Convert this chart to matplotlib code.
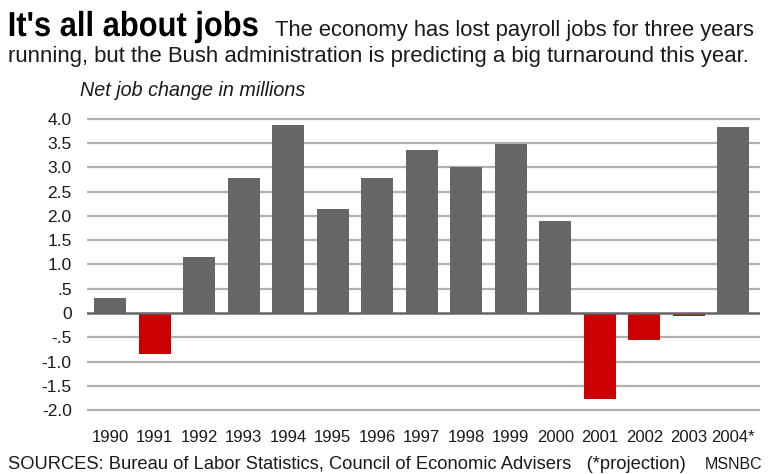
import matplotlib
matplotlib.use("Agg")
from matplotlib import pyplot as plt
from matplotlib.patheffects import AbstractPathEffect
from matplotlib.transforms import Affine2D
import numpy as np

# data
years = ["1990", "1991", "1992", "1993", "1994", "1995", "1996", "1997",
         "1998", "1999", "2000", "2001", "2002", "2003", "2004*"]
job_change = [0.32, -0.85, 1.16, 2.78, 3.86, 2.15, 2.78, 3.35,
              3.0, 3.47, 1.9, -1.77, -0.55, -0.06, 3.82]
ytick_vals = [-2.0, -1.5, -1.0, -0.5, 0, 0.5, 1.0, 1.5, 2.0, 2.5, 3.0, 3.5, 4.0]
ytick_labels = ["-2.0", "-1.5", "-1.0", "-.5", "0", ".5", "1.0", "1.5",
                "2.0", "2.5", "3.0", "3.5", "4.0"]

GRAY = "#666666"
RED = "#cc0000"
TXT = "#1a1a1a"
plt.rcParams["font.family"] = ["Liberation Sans", "DejaVu Sans"]


class Squeeze(AbstractPathEffect):
    # narrows the glyphs horizontally, the headline font is a condensed one
    def __init__(self, sx):
        super().__init__()
        self.sx = sx

    def draw_path(self, renderer, gc, tpath, affine, rgbFace=None):
        renderer.draw_path(gc, tpath, Affine2D().scale(self.sx, 1) + affine, rgbFace)


fig = plt.figure(figsize=(7.7, 4.74), dpi=100)
ax = fig.add_axes([0.113, 0.131, 0.874, 0.622])

x = np.arange(len(years))
colors = [RED if v < 0 else GRAY for v in job_change]

for v in ytick_vals:
    if v == 0:
        continue
    ax.axhline(v, color="#b0b0b0", lw=1.6, zorder=1)
ax.bar(x, job_change, width=0.72, color=colors, zorder=2)
ax.axhline(0, color=GRAY, lw=1.8, zorder=3)

ax.set_xlim(-0.52, 14.6)
ax.set_ylim(-2.03, 4.03)
ax.set_yticks(ytick_vals)
ax.set_yticklabels(ytick_labels, fontsize=12.5, color=TXT)
ax.set_xticks(x)
ax.set_xticklabels(years, fontsize=12, color=TXT)
ax.tick_params(length=0)
ax.tick_params(axis="x", pad=13)
ax.tick_params(axis="y", pad=11)
for s in ax.spines.values():
    s.set_visible(False)

# headline and notes
fig.text(0.01, 1 - 36 / 474, "It's all about jobs", fontsize=25, fontweight="bold",
         color="black", path_effects=[Squeeze(0.89)])
fig.text(0.357, 1 - 36 / 474, "The economy has lost payroll jobs for three years",
         fontsize=15.8, color=TXT)
fig.text(0.01, 1 - 62 / 474, "running, but the Bush administration is predicting a big turnaround this year.",
         fontsize=15.9, color=TXT)
fig.text(0.104, 1 - 96 / 474, "Net job change in millions", fontsize=14.2,
         style="italic", color=TXT)
fig.text(0.01, 0.01, "SOURCES: Bureau of Labor Statistics, Council of Economic Advisers   (*projection)",
         fontsize=13.2, color=TXT)
fig.text(0.99, 0.01, "MSNBC", fontsize=11.5, color=TXT, ha="right")

fig.savefig("out.png", dpi=100)
